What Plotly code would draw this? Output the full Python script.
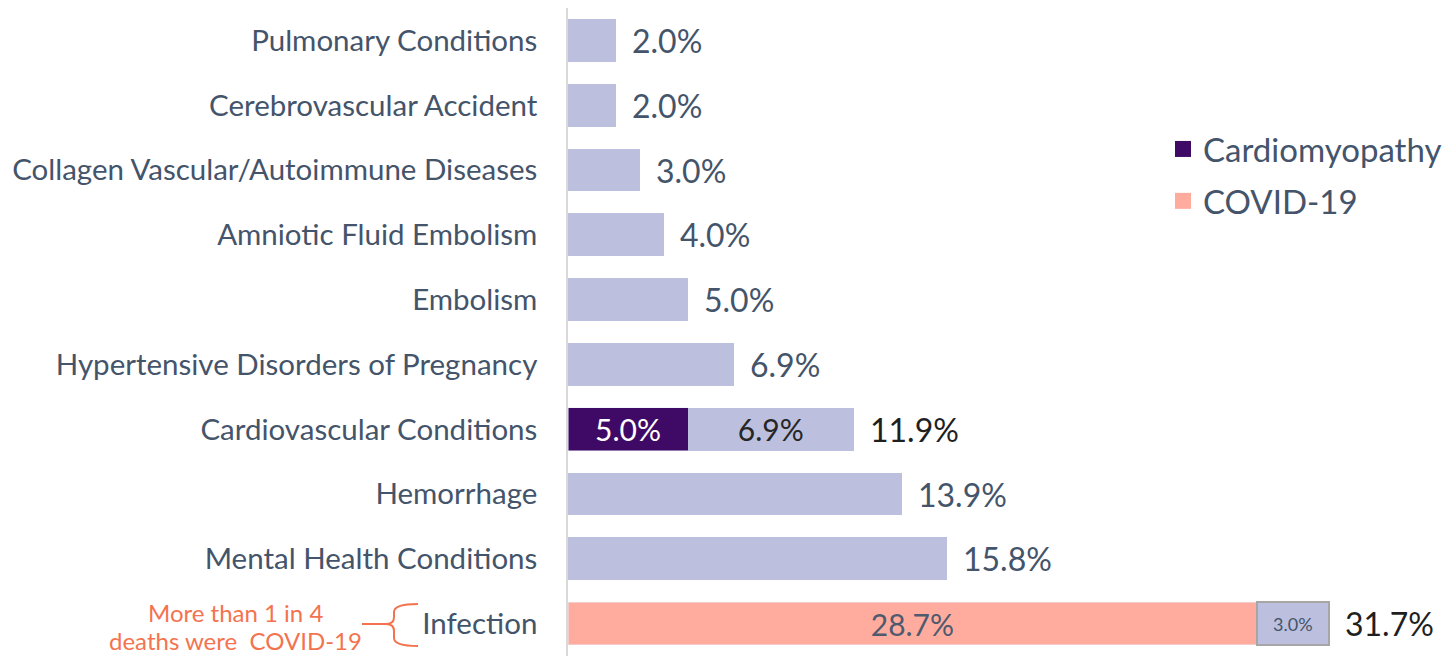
import plotly.graph_objects as go

# ---- data ----
categories = ["Pulmonary Conditions", "Cerebrovascular Accident",
              "Collagen Vascular/Autoimmune Diseases", "Amniotic Fluid Embolism",
              "Embolism", "Hypertensive Disorders of Pregnancy",
              "Cardiovascular Conditions", "Hemorrhage",
              "Mental Health Conditions", "Infection"]
other_values = [2.0, 2.0, 3.0, 4.0, 5.0, 6.9, 6.9, 13.9, 15.8, 3.0]
cardiomyopathy_values = [0, 0, 0, 0, 0, 0, 5.0, 0, 0, 0]
covid_values = [0, 0, 0, 0, 0, 0, 0, 0, 0, 28.7]
note_lines = ["More than 1 in 4", "deaths were&nbsp; COVID-19"]

# ---- style ----
FONT = "Lato"
TXT = "#44546A"
LAV = "#BCC0DE"
PURPLE = "#3F0A66"
SALMON = "#FFAC9F"
ORANGE = "#F4734F"

W_FIG, H_FIG = 1446, 656
L, R, T, B = 568, 6, 8, 0
PW, PH = W_FIG - L - R, H_FIG - T - B
PX_PER_PCT = 24.0


def px(x):
    return (x - L) / PW


def py(y):
    return 1 - (y - T) / PH


totals = [o + c + v for o, c, v in zip(other_values, cardiomyopathy_values, covid_values)]
split_rows = [(c > 0 or v > 0) for c, v in zip(cardiomyopathy_values, covid_values)]

fig = go.Figure()
fig.add_trace(go.Bar(
    y=categories, x=cardiomyopathy_values, orientation="h", name="Cardiomyopathy",
    marker=dict(color=PURPLE), showlegend=False,
    text=[f"{v:.1f}%" if v > 0 else "" for v in cardiomyopathy_values],
    textposition="inside", insidetextanchor="middle",
    insidetextfont=dict(family=FONT, size=30, color="white"),
    hoverinfo="skip"))
fig.add_trace(go.Bar(
    y=categories, x=covid_values, orientation="h", name="COVID-19",
    marker=dict(color=SALMON), showlegend=False,
    text=[f"{v:.1f}%" if v > 0 else "" for v in covid_values],
    textposition="inside", insidetextanchor="middle",
    insidetextfont=dict(family=FONT, size=30, color="#4F5A6E"),
    hoverinfo="skip"))
other_text = []
other_font_sizes = []
other_font_colors = []
for i, v in enumerate(other_values):
    if split_rows[i]:
        other_text.append(f"{v:.1f}%")
        small = covid_values[i] > 0
        other_font_sizes.append(18 if small else 30)
        other_font_colors.append(TXT if small else "#262626")
    else:
        other_text.append("")
        other_font_sizes.append(30)
        other_font_colors.append(TXT)
fig.add_trace(go.Bar(
    y=categories, x=other_values, orientation="h", name="Other",
    showlegend=False,
    marker=dict(color=LAV,
                line=dict(color="#A6A6A6",
                          width=[2 if v > 0 else 0 for v in covid_values])),
    text=other_text, textposition="inside", insidetextanchor="middle",
    insidetextfont=dict(family=FONT, size=other_font_sizes, color=other_font_colors),
    hoverinfo="skip"))

# legend proxies (bigger square symbols)
fig.add_trace(go.Scatter(x=[None], y=[None], mode="markers", name="Cardiomyopathy",
                         marker=dict(symbol="square", size=16, color=PURPLE),
                         legendgroup="a"))
fig.add_trace(go.Scatter(x=[None], y=[None], mode="markers", name="COVID-19",
                         marker=dict(symbol="square", size=16, color=SALMON),
                         legendgroup="b"))

annotations = []
for i, cat in enumerate(categories):
    annotations.append(dict(
        x=totals[i], y=cat, xref="x", yref="y", xanchor="left", yanchor="middle",
        xshift=14, showarrow=False, text=f"{totals[i]:.1f}%",
        font=dict(family=FONT, size=32, color="#1F1F1F" if split_rows[i] else TXT)))
for line, yy in zip(note_lines, [612, 640]):
    annotations.append(dict(
        x=px(235), y=py(yy), xref="paper", yref="paper", xanchor="center",
        yanchor="middle", showarrow=False, text=line, borderpad=0,
        font=dict(family=FONT, size=24, color=ORANGE)))

brace = (f"M {px(418)},{py(604)} Q {px(394)},{py(604)} {px(394)},{py(612)} "
         f"L {px(394)},{py(617)} Q {px(394)},{py(624)} {px(386)},{py(624)} "
         f"Q {px(394)},{py(624)} {px(394)},{py(631)} "
         f"L {px(394)},{py(638)} Q {px(394)},{py(646)} {px(418)},{py(646)} "
         f"M {px(362)},{py(624)} L {px(386)},{py(624)}")

fig.update_layout(
    width=W_FIG, height=H_FIG,
    margin=dict(l=L, r=R, t=T, b=B, pad=0, autoexpand=False),
    paper_bgcolor="white", plot_bgcolor="white",
    barmode="stack", bargap=0.34,
    font=dict(family=FONT, color=TXT),
    xaxis=dict(range=[0, PW / PX_PER_PCT], visible=False, fixedrange=True,
               automargin=False),
    yaxis=dict(autorange="reversed", showline=True, linecolor="#D9D9D9",
               linewidth=1.5, showgrid=False, ticks="", ticklabelstandoff=23,
               automargin=False,
               tickfont=dict(family=FONT, size=29.5, color=TXT)),
    legend=dict(x=px(1163), y=py(121), xanchor="left", yanchor="top",
                traceorder="grouped", tracegroupgap=6,
                font=dict(family=FONT, size=33, color=TXT),
                bgcolor="rgba(0,0,0,0)"),
    annotations=annotations,
    shapes=[dict(type="path", path=brace, xref="paper", yref="paper",
                 line=dict(color=ORANGE, width=2))],
    showlegend=True,
)

fig.write_html("out.html", config={"displayModeBar": False},
               post_script="document.body.style.margin='0';document.body.style.overflow='hidden';")
